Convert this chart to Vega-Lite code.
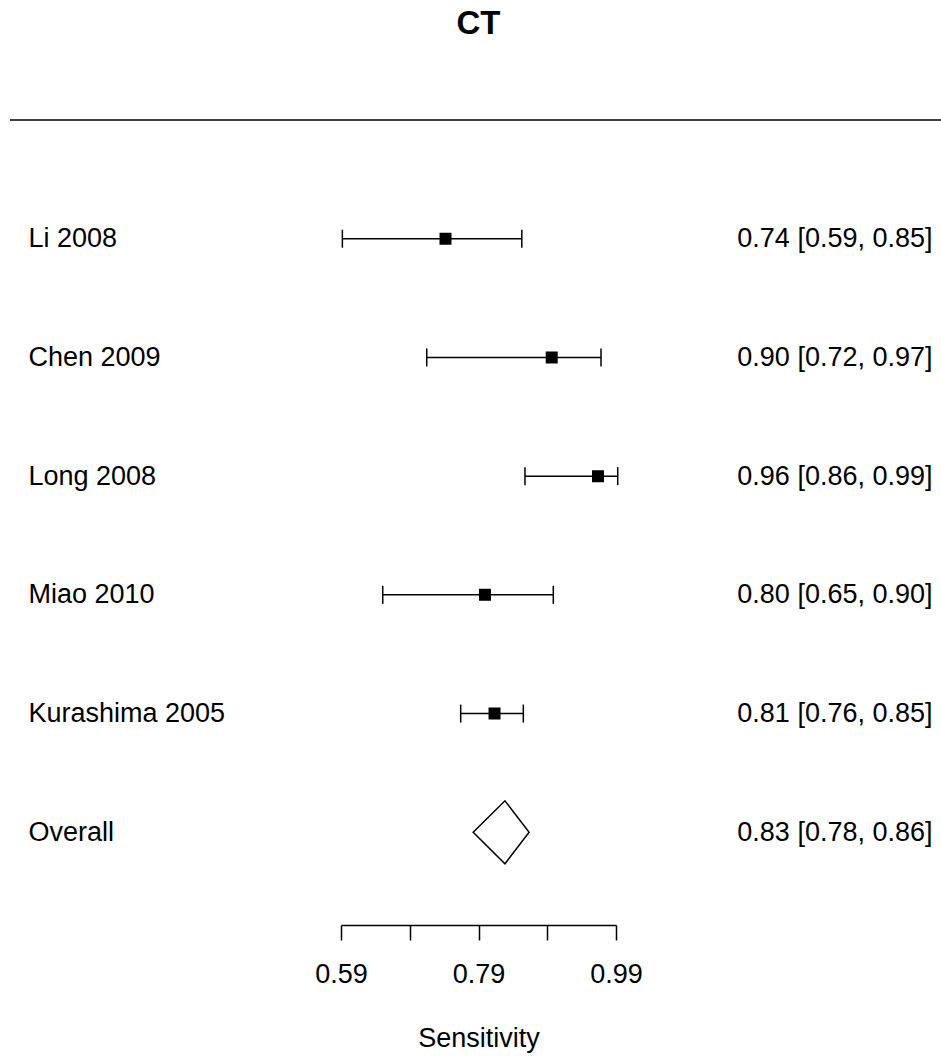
{
  "$schema": "https://vega.github.io/schema/vega-lite/v6.json",
  "autosize": {"type": "none"},
  "width": 275,
  "height": 831,
  "padding": {"left": 341, "top": 120, "right": 325, "bottom": 106},
  "background": "white",
  "config": {"font": "Liberation Sans", "view": {"stroke": null}},
  "title": {"text": "CT", "fontSize": 33, "fontWeight": "bold", "font": "Liberation Sans", "anchor": "middle", "frame": "group", "offset": 78, "color": "black"},
  "data": {"values": [
    {"study": "Li 2008", "kind": "study", "est": 0.742, "lo": 0.592, "hi": 0.853, "ci": "0.74 [0.59, 0.85]"},
    {"study": "Chen 2009", "kind": "study", "est": 0.8965, "lo": 0.7147, "hi": 0.9682, "ci": "0.90 [0.72, 0.97]"},
    {"study": "Long 2008", "kind": "study", "est": 0.9638, "lo": 0.8576, "hi": 0.9925, "ci": "0.96 [0.86, 0.99]"},
    {"study": "Miao 2010", "kind": "study", "est": 0.7994, "lo": 0.6507, "hi": 0.8988, "ci": "0.80 [0.65, 0.90]"},
    {"study": "Kurashima 2005", "kind": "study", "est": 0.8133, "lo": 0.7641, "hi": 0.8552, "ci": "0.81 [0.76, 0.85]"},
    {"study": "Overall", "kind": "overall", "est": 0.8285, "lo": 0.782, "hi": 0.8635, "ci": "0.83 [0.78, 0.86]"}
  ]},
  "layer": [
    {
      "mark": {"type": "point", "filled": true, "stroke": "black", "strokeWidth": 1.5, "size": 110, "opacity": 1},
      "encoding": {
        "x": {"field": "est", "type": "quantitative", "title": "Sensitivity", "scale": {"domain": [0.59, 0.99], "nice": false, "zero": false},
          "axis": {"values": [0.59, 0.69, 0.79, 0.89, 0.99], "format": ".2f",
            "labelExpr": "abs(datum.value - 0.69) < 0.001 || abs(datum.value - 0.89) < 0.001 ? '' : datum.label",
            "offset": -26, "grid": false, "ticks": true, "domain": true, "tickSize": 15, "tickWidth": 1.5, "tickColor": "black", "domainColor": "black", "domainWidth": 1.5,
            "labelFontSize": 27, "labelColor": "black", "labelPadding": 21, "labelFlush": false, "labelFont": "Liberation Sans", "labelOverlap": false,
            "title": "Sensitivity", "titleFontSize": 27, "titleFontWeight": "normal", "titleColor": "black", "titlePadding": 38, "titleFont": "Liberation Sans"}},
        "y": {"field": "ci", "type": "nominal", "sort": null,
          "scale": {"type": "point", "padding": 1},
          "axis": {"orient": "right", "title": null, "ticks": false, "tickSize": 0, "domain": false, "grid": false, "labelAlign": "right", "labelBaseline": "middle", "labelPadding": 316, "labelFontSize": 27, "labelColor": "black", "labelFont": "Liberation Sans", "labelLimit": 0, "labelOverlap": false}},
        "fill": {"field": "kind", "type": "nominal", "scale": {"domain": ["study", "overall"], "range": ["black", "white"]}, "legend": null},
        "shape": {"field": "kind", "type": "nominal", "scale": {"domain": ["study", "overall"], "range": ["square", "M-6.06,0L0,-6L4.6,0L0,6Z"]}, "legend": null}
      }
    },
    {
      "encoding": {
        "y": {"field": "study", "type": "nominal",
          "scale": {"type": "point", "padding": 1, "domain": ["Li 2008", "Chen 2009", "Long 2008", "Miao 2010", "Kurashima 2005", "Overall"]},
          "axis": {"orient": "left", "title": null, "ticks": false, "tickSize": 0, "domain": false, "grid": false, "labelAlign": "left", "labelBaseline": "middle", "labelPadding": 313, "labelFontSize": 27, "labelColor": "black", "labelFont": "Liberation Sans", "labelLimit": 0, "labelOverlap": false}}
      },
      "layer": [
        {
          "transform": [{"filter": "datum.kind === 'study'"}],
          "mark": {"type": "rule", "color": "black", "strokeWidth": 1.5},
          "encoding": {
            "x": {"field": "lo", "type": "quantitative", "title": "Sensitivity", "scale": {"domain": [0.59, 0.99], "nice": false, "zero": false},
              "axis": {"values": [0.59, 0.69, 0.79, 0.89, 0.99], "format": ".2f",
                "labelExpr": "abs(datum.value - 0.69) < 0.001 || abs(datum.value - 0.89) < 0.001 ? '' : datum.label",
                "offset": -26, "grid": false, "ticks": true, "domain": true, "tickSize": 15, "tickWidth": 1.5, "tickColor": "black", "domainColor": "black", "domainWidth": 1.5,
                "labelFontSize": 27, "labelColor": "black", "labelPadding": 21, "labelFlush": false, "labelFont": "Liberation Sans", "labelOverlap": false,
                "title": "Sensitivity", "titleFontSize": 27, "titleFontWeight": "normal", "titleColor": "black", "titlePadding": 38, "titleFont": "Liberation Sans"}},
            "x2": {"field": "hi"}
          }
        },
        {
          "transform": [{"filter": "datum.kind === 'study'"}],
          "mark": {"type": "tick", "color": "black", "thickness": 1.5, "size": 18, "opacity": 1, "orient": "vertical"},
          "encoding": {
            "x": {"field": "lo", "type": "quantitative", "title": "Sensitivity", "scale": {"domain": [0.59, 0.99], "nice": false, "zero": false},
              "axis": {"values": [0.59, 0.69, 0.79, 0.89, 0.99], "format": ".2f",
                "labelExpr": "abs(datum.value - 0.69) < 0.001 || abs(datum.value - 0.89) < 0.001 ? '' : datum.label",
                "offset": -26, "grid": false, "ticks": true, "domain": true, "tickSize": 15, "tickWidth": 1.5, "tickColor": "black", "domainColor": "black", "domainWidth": 1.5,
                "labelFontSize": 27, "labelColor": "black", "labelPadding": 21, "labelFlush": false, "labelFont": "Liberation Sans", "labelOverlap": false,
                "title": "Sensitivity", "titleFontSize": 27, "titleFontWeight": "normal", "titleColor": "black", "titlePadding": 38, "titleFont": "Liberation Sans"}}
          }
        },
        {
          "transform": [{"filter": "datum.kind === 'study'"}],
          "mark": {"type": "tick", "color": "black", "thickness": 1.5, "size": 18, "opacity": 1, "orient": "vertical"},
          "encoding": {
            "x": {"field": "hi", "type": "quantitative", "title": "Sensitivity", "scale": {"domain": [0.59, 0.99], "nice": false, "zero": false},
              "axis": {"values": [0.59, 0.69, 0.79, 0.89, 0.99], "format": ".2f",
                "labelExpr": "abs(datum.value - 0.69) < 0.001 || abs(datum.value - 0.89) < 0.001 ? '' : datum.label",
                "offset": -26, "grid": false, "ticks": true, "domain": true, "tickSize": 15, "tickWidth": 1.5, "tickColor": "black", "domainColor": "black", "domainWidth": 1.5,
                "labelFontSize": 27, "labelColor": "black", "labelPadding": 21, "labelFlush": false, "labelFont": "Liberation Sans", "labelOverlap": false,
                "title": "Sensitivity", "titleFontSize": 27, "titleFontWeight": "normal", "titleColor": "black", "titlePadding": 38, "titleFont": "Liberation Sans"}}
          }
        }
      ]
    },
    {
      "data": {"values": [{}]},
      "mark": {"type": "rule", "color": "black", "strokeWidth": 1.5},
      "encoding": {
        "x": {"datum": 0.10855, "type": "quantitative", "title": "Sensitivity", "scale": {"domain": [0.59, 0.99], "nice": false, "zero": false},
          "axis": {"values": [0.59, 0.69, 0.79, 0.89, 0.99], "format": ".2f",
            "labelExpr": "abs(datum.value - 0.69) < 0.001 || abs(datum.value - 0.89) < 0.001 ? '' : datum.label",
            "offset": -26, "grid": false, "ticks": true, "domain": true, "tickSize": 15, "tickWidth": 1.5, "tickColor": "black", "domainColor": "black", "domainWidth": 1.5,
            "labelFontSize": 27, "labelColor": "black", "labelPadding": 21, "labelFlush": false, "labelFont": "Liberation Sans", "labelOverlap": false,
            "title": "Sensitivity", "titleFontSize": 27, "titleFontWeight": "normal", "titleColor": "black", "titlePadding": 38, "titleFont": "Liberation Sans"}},
        "x2": {"datum": 1.46273},
        "y": {"datum": 1, "type": "quantitative", "scale": {"domain": [0, 1]}, "axis": null}
      }
    }
  ],
  "resolve": {"scale": {"y": "independent"}}
}
